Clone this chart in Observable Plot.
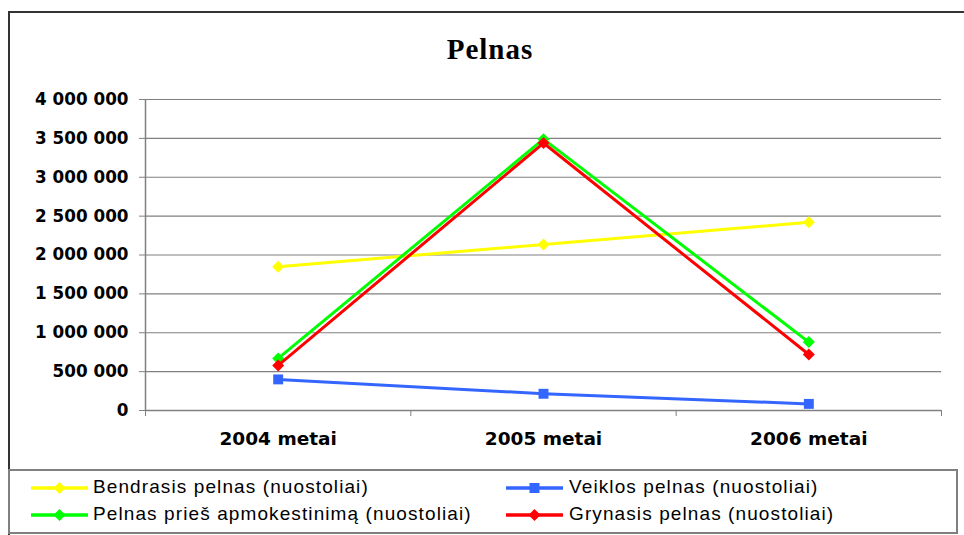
<!DOCTYPE html>
<html>
<head>
<meta charset="utf-8">
<script src="https://cdn.jsdelivr.net/npm/d3@7"></script>
<script src="https://cdn.jsdelivr.net/npm/@observablehq/plot@0.6"></script>
<style>
  html, body { margin: 0; padding: 0; background: #fff; width: 964px; height: 535px; overflow: hidden; position: relative; }
  #frame { position: absolute; left: 8px; top: 11px; width: 1000px; height: 600px; border-left: 2px solid #333; border-top: 2px solid #333; box-sizing: border-box; }
  #title { position: absolute; left: 8px; width: 964px; top: 34px; line-height: 30px; text-align: center; font-family: "Liberation Serif", "Times New Roman", serif; font-weight: bold; font-size: 29px; letter-spacing: 1px; color: #000; }
  #chart { position: absolute; left: 0; top: 0; }
  #legend { position: absolute; left: 8px; top: 469px; width: 950px; height: 65px; border: 2px solid #808080; box-sizing: border-box; }
  .lg-text { position: absolute; font-family: "Liberation Sans", Arial, sans-serif; font-size: 19px; line-height: 19px; letter-spacing: 1.1px; color: #000; white-space: nowrap; }
  .lg-sw { position: absolute; }
</style>
</head>
<body>
<div id="frame"></div>
<div id="title">Pelnas</div>
<div id="chart"></div>
<div id="legend"></div>
<script>
// ---- data ----
const categories = ["2004 metai", "2005 metai", "2006 metai"];
const seriesNames = [
  "Bendrasis pelnas (nuostoliai)",
  "Veiklos pelnas (nuostoliai)",
  "Pelnas prieš apmokestinimą (nuostoliai)",
  "Grynasis pelnas (nuostoliai)"
];
const bendrasisPelnas = [1850000, 2135000, 2420000];
const veiklosPelnas = [400000, 215000, 85000];
const pelnasPriesApmokestinima = [670000, 3490000, 880000];
const grynasisPelnas = [580000, 3440000, 720000];
const yTicks = [0, 500000, 1000000, 1500000, 2000000, 2500000, 3000000, 3500000, 4000000];

// ---- styles ----
const seriesColors = ["#FFFF00", "#3366FF", "#00FF00", "#FF0000"];
const seriesSymbols = ["diamond2", "square", "diamond2", "diamond2"];
const seriesR = [5.4, 5.6, 5.4, 5.4];

const seriesValues = [bendrasisPelnas, veiklosPelnas, pelnasPriesApmokestinima, grynasisPelnas];
const table = seriesNames.flatMap((s, si) =>
  categories.map((c, ci) => ({series: s, category: c, value: seriesValues[si][ci]}))
);
const xPos = d => categories.indexOf(d.category) + 0.5;

const fmt = d3.formatLocale({thousands: "\u00a0", grouping: [3], decimal: ",", currency: ["", ""]}).format(",");

const seriesMarks = seriesNames.flatMap((s, si) => {
  const rows = table.filter(d => d.series === s);
  return [
    Plot.line(rows, {x: xPos, y: "value", stroke: seriesColors[si], strokeWidth: 3}),
    Plot.dot(rows, {x: xPos, y: "value", symbol: seriesSymbols[si], r: seriesR[si], fill: seriesColors[si], stroke: "none"})
  ];
});

const boundaries = d3.range(categories.length + 1);
const centers = categories.map((c, i) => i + 0.5);

const chart = Plot.plot({
  width: 964,
  height: 460,
  marginTop: 99,
  marginBottom: 50,
  marginLeft: 145,
  marginRight: 23,
  style: {fontFamily: "'DejaVu Sans', sans-serif", fontSize: "17px", fontWeight: "bold", color: "#000", background: "transparent"},
  x: {domain: [0, categories.length], axis: null, label: null},
  y: {domain: [0, 4000000], axis: null, label: null},
  marks: [
    Plot.gridY(yTicks, {stroke: "#808080", strokeOpacity: 1, strokeWidth: 1.2}),
    Plot.ruleX([0], {stroke: "#808080", strokeWidth: 1.5}),
    Plot.ruleY([0], {stroke: "#808080", strokeWidth: 1.5}),
    Plot.axisY(yTicks, {anchor: "left", tickSize: 6, tickPadding: 11, stroke: "#808080", fill: "#000", tickFormat: fmt, fontSize: 16.8, fontWeight: "bold", label: null}),
    Plot.axisX(boundaries, {anchor: "bottom", tickSize: 6, stroke: "#808080", tickFormat: () => "", label: null}),
    Plot.axisX(centers, {anchor: "bottom", tickSize: 0, tickPadding: 21, fill: "#000", tickFormat: v => categories[Math.round(v - 0.5)], fontSize: 18.5, fontWeight: "bold", label: null}),
    ...seriesMarks
  ]
});
document.getElementById("chart").appendChild(chart);

// ---- legend ----
const legend = document.getElementById("legend");
const legendPos = [
  {sw: 28, tx: 91, row: 0},
  {sw: 503, tx: 567, row: 0},
  {sw: 28, tx: 91, row: 1},
  {sw: 503, tx: 567, row: 1}
];
const rowCenter = [485.5, 513];
seriesNames.forEach((s, i) => {
  const p = legendPos[i];
  const ns = "http://www.w3.org/2000/svg";
  const svg = document.createElementNS(ns, "svg");
  svg.setAttribute("width", 60);
  svg.setAttribute("height", 16);
  svg.setAttribute("class", "lg-sw");
  svg.style.left = (p.sw - 8) + "px";
  svg.style.top = (rowCenter[p.row] - 8 - 469) + "px";
  const line = document.createElementNS(ns, "line");
  line.setAttribute("x1", 1); line.setAttribute("x2", 58);
  line.setAttribute("y1", 8); line.setAttribute("y2", 8);
  line.setAttribute("stroke", seriesColors[i]); line.setAttribute("stroke-width", 3.5);
  svg.appendChild(line);
  const sym = document.createElementNS(ns, "path");
  const cx = 29.5;
  if (seriesSymbols[i] === "square") {
    sym.setAttribute("d", `M${cx-5},3H${cx+5}V13H${cx-5}Z`);
  } else {
    sym.setAttribute("d", `M${cx},2L${cx+6},8L${cx},14L${cx-6},8Z`);
  }
  sym.setAttribute("fill", seriesColors[i]);
  svg.appendChild(sym);
  legend.appendChild(svg);
  const t = document.createElement("div");
  t.className = "lg-text";
  t.textContent = s;
  t.style.left = (p.tx - 8) + "px";
  t.style.top = (rowCenter[p.row] - 11 - 469) + "px";
  legend.appendChild(t);
});
</script>
</body>
</html>
